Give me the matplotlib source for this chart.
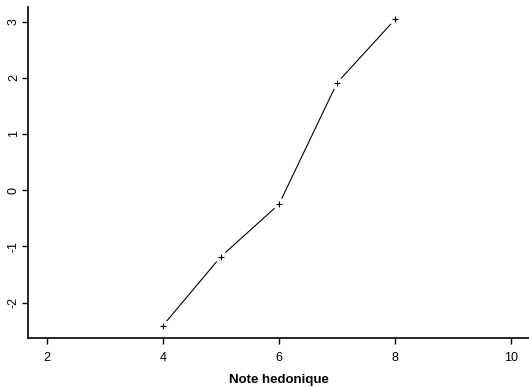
import matplotlib
matplotlib.use("Agg")
import matplotlib.pyplot as plt
import numpy as np

plt.rcParams['font.family'] = ['Liberation Sans', 'DejaVu Sans']

# hedonic score vs. fitted value
note = [4, 5, 6, 7, 8]
valeur = [-2.41, -1.18, -0.25, 1.91, 3.04]
xticks = [2, 4, 6, 8, 10]
yticks = [-2, -1, 0, 1, 2, 3]

fig = plt.figure(figsize=(5.29, 3.87), dpi=100)
ax = fig.add_axes([28 / 529, 1 - 338 / 387, 502 / 529, 331 / 387])

# R-style "b" plot: line segments with a gap around each point
ax.plot(note, valeur, color='black', lw=0.8, zorder=1)
ax.plot(note, valeur, ls='none', marker='o', ms=9, mfc='white', mec='none', zorder=2)
ax.plot(note, valeur, ls='none', marker='+', ms=5, mew=0.8, color='black', zorder=3)

# R extends the range by 4% on each side
ymin, ymax = min(valeur), max(valeur)
dy = 0.04 * (ymax - ymin)
ax.set_ylim(ymin - dy, ymax + dy)
ax.set_xlim(2 - 0.04 * 8, 10 + 0.04 * 8)

ax.set_xticks(xticks)
ax.set_yticks(yticks)
ax.set_yticklabels([str(v) for v in yticks], rotation=90, va='center')
ax.tick_params(axis='both', direction='out', length=4.3, width=1.0, labelsize=9, pad=6)
ax.tick_params(axis='y', pad=1.5)

for s in ['top', 'right']:
    ax.spines[s].set_visible(False)
for s in ['left', 'bottom']:
    ax.spines[s].set_linewidth(1.2)

ax.set_xlabel('Note hedonique', fontsize=9.5, fontweight='bold', labelpad=7)

fig.savefig('out.png', dpi=100)
